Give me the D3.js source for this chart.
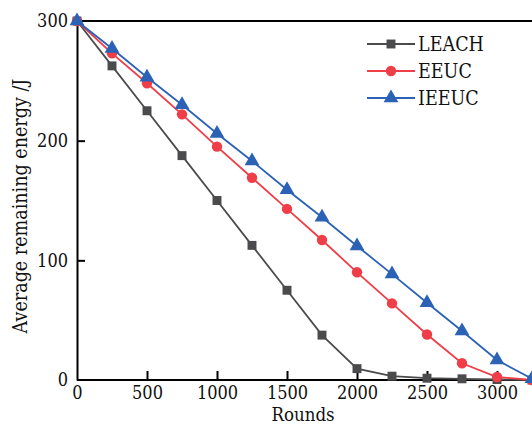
<!DOCTYPE html>
<html>
<head>
<meta charset="utf-8">
<script src="https://cdn.jsdelivr.net/npm/d3@7/dist/d3.min.js"></script>
<style>
  body { margin: 0; background: #fff; }
  svg { display: block; }
  text { font-stretch: condensed; }
</style>
</head>
<body>
<div id="vis"></div>
<script>
// rounds sampled every 250
var rounds = [0, 250, 500, 750, 1000, 1250, 1500, 1750, 2000, 2250, 2500, 2750, 3000, 3250];
var leach = [300, 262.5, 225, 187.5, 150, 112.5, 75, 37.5, 9.5, 3.2, 1.5, 1, 0.4, 0];
var eeuc  = [300, 273, 248, 222, 195, 169, 143, 117, 90, 64, 38, 14, 2.5, 0];
var ieeuc = [300, 277, 253, 230, 206, 183, 159, 136, 112, 88.5, 64.5, 41, 16.7, 1];
var xTicks = [0, 500, 1000, 1500, 2000, 2500, 3000];
var yTicks = [0, 100, 200, 300];

var font = '"DejaVu Serif", "Liberation Serif", serif';
var W = 532, H = 426;
var margin = { left: 77, top: 21, right: 0, bottom: 46 };

var svg = d3.select("#vis").append("svg")
    .attr("width", W)
    .attr("height", H);

var x = d3.scaleLinear().domain([0, 3250]).range([margin.left, W - margin.right]);
var y = d3.scaleLinear().domain([0, 300]).range([H - margin.bottom, margin.top]);

var series = [
    { name: "LEACH", values: leach, color: "#4b4b4d", shape: d3.symbolSquare, size: 80 },
    { name: "EEUC",  values: eeuc,  color: "#ef3e48", shape: d3.symbolCircle, size: 85 },
    { name: "IEEUC", values: ieeuc, color: "#2b62b6", shape: d3.symbolTriangle, size: 95 }
];

// frame (top line, axes)
svg.append("line")
    .attr("x1", x(0)).attr("x2", W)
    .attr("y1", y(300)).attr("y2", y(300))
    .attr("stroke", "#000").attr("stroke-width", 2);

var xAxis = svg.append("g")
    .attr("transform", "translate(0," + y(0) + ")")
    .call(d3.axisBottom(x).tickValues(xTicks).tickFormat(d3.format("d"))
        .tickSizeInner(-9).tickSizeOuter(0).tickPadding(6));
var yAxis = svg.append("g")
    .attr("transform", "translate(" + x(0) + ",0)")
    .call(d3.axisLeft(y).tickValues(yTicks).tickFormat(d3.format("d"))
        .tickSizeInner(-8).tickSizeOuter(0).tickPadding(9));

[xAxis, yAxis].forEach(function (a) {
    a.select(".domain").attr("stroke-width", 2);
    a.selectAll(".tick line").attr("stroke-width", 2);
    a.selectAll("text")
        .style("font-family", font)
        .style("font-size", "18px")
        .attr("fill", "#111");
});
xAxis.select(".domain").attr("d", "M" + x(0) + ",0H" + W);
yAxis.selectAll(".tick").filter(function (d) { return d === 300 || d === 0; }).select("line").remove();
xAxis.selectAll(".tick").filter(function (d) { return d === 0; }).select("line").remove();

// lines + markers
var line = d3.line()
    .x(function (d, i) { return x(rounds[i]); })
    .y(function (d) { return y(d); });

series.forEach(function (s) {
    svg.append("path")
        .datum(s.values)
        .attr("d", line)
        .attr("fill", "none")
        .attr("stroke", s.color)
        .attr("stroke-width", 1.8);
    svg.append("g").selectAll("path")
        .data(s.values)
        .join("path")
        .attr("transform", function (d, i) { return "translate(" + x(rounds[i]) + "," + y(d) + ")"; })
        .attr("d", d3.symbol().type(s.shape).size(s.size))
        .attr("fill", s.color);
});

// legend
var legend = svg.append("g");
series.forEach(function (s, i) {
    var ly = 44 + i * 27;
    legend.append("line")
        .attr("x1", 367).attr("x2", 415)
        .attr("y1", ly).attr("y2", ly)
        .attr("stroke", s.color).attr("stroke-width", 1.8);
    legend.append("path")
        .attr("transform", "translate(391," + ly + ")")
        .attr("d", d3.symbol().type(s.shape).size(s.size))
        .attr("fill", s.color);
    legend.append("text")
        .attr("x", 418).attr("y", ly + 7)
        .style("font-family", font)
        .style("font-size", "19.5px")
        .attr("fill", "#111")
        .text(s.name);
});

// axis titles
svg.append("text")
    .attr("x", 303).attr("y", 421)
    .attr("text-anchor", "middle")
    .style("font-family", font)
    .style("font-size", "18.5px")
    .attr("fill", "#111")
    .text("Rounds");

svg.append("text")
    .attr("transform", "translate(27,206) rotate(-90)")
    .attr("text-anchor", "middle")
    .style("font-family", font)
    .style("font-size", "19.5px")
    .attr("fill", "#111")
    .text("Average remaining energy /J");
</script>
</body>
</html>
